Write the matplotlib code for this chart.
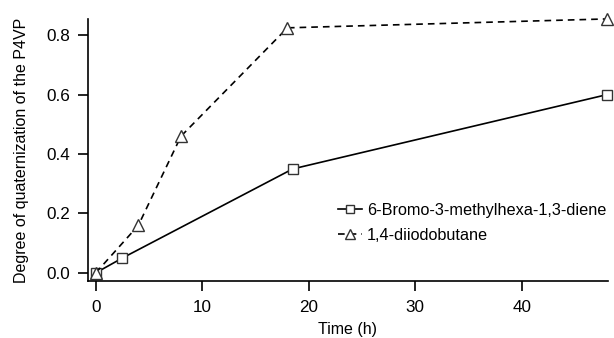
import matplotlib.pyplot as plt

plt.rcParams['font.family'] = ['Liberation Sans', 'DejaVu Sans']

# time in hours
t_bromo = [0, 2.5, 18.5, 48]
q_bromo = [0.0, 0.05, 0.35, 0.60]

t_diiodo = [0, 4, 8, 18, 48]
q_diiodo = [0.0, 0.16, 0.46, 0.825, 0.855]

fig = plt.figure(figsize=(6.14, 3.38), dpi=100)
ax = fig.add_axes([0.143, 0.169, 0.847, 0.775])

ax.plot(t_bromo, q_bromo, '-', color='black', lw=1.2, marker='s', ms=7.5,
        mfc='white', mec='#333333', mew=1.0, clip_on=False,
        label='6-Bromo-3-methylhexa-1,3-diene')
ax.plot(t_diiodo, q_diiodo, '--', color='black', lw=1.2, marker='^', ms=8,
        mfc='white', mec='#333333', mew=1.0, clip_on=False, dashes=(4, 3),
        label='1,4-diiodobutane')

ax.set_xlim(-0.75, 48.1)
ax.set_ylim(-0.027, 0.855)
ax.set_xticks([0, 10, 20, 30, 40])
ax.set_yticks([0.0, 0.2, 0.4, 0.6, 0.8])
ax.set_yticklabels(['0.0', '0.2', '0.4', '0.6', '0.8'])

for s in ['top', 'right']:
    ax.spines[s].set_visible(False)
for s in ['left', 'bottom']:
    ax.spines[s].set_linewidth(1.2)
ax.tick_params(direction='out', length=7.5, width=1.2, labelsize=12.3)
ax.tick_params(axis='x', pad=6)
ax.tick_params(axis='y', pad=5)

ax.set_xlabel('Time (h)', fontsize=11.5, labelpad=5)
ax.set_ylabel('Degree of quaternization of the P4VP', fontsize=11.5, labelpad=13)

ax.legend(loc='lower right', bbox_to_anchor=(1.025, 0.09), frameon=False,
          fontsize=11.7, handlelength=1.5, handletextpad=0.3,
          labelspacing=0.6, markerscale=0.85)

fig.savefig('out.png', dpi=100)
